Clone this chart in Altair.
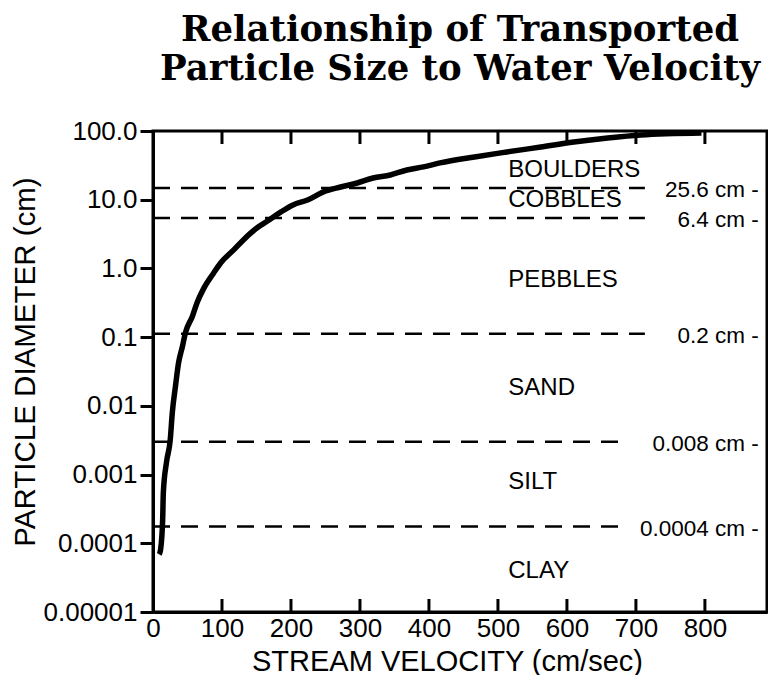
import altair as alt
import pandas as pd

# ---------------- data ----------------
title_lines = ["Relationship of Transported", "Particle Size to Water Velocity"]
x_title = "STREAM VELOCITY (cm/sec)"
y_title = "PARTICLE DIAMETER (cm)"

# transport curve (velocity cm/sec, particle diameter cm)
velocity = [9, 11, 14, 15, 19.5, 25, 28, 32.5, 37, 42.5, 47, 57, 64, 73, 88, 98,
            117, 131, 151, 166, 185, 203, 224, 247, 272, 296, 319, 344, 368, 392,
            416, 466, 513, 562, 610, 659, 707, 795]
diameter = [6.9e-5, 8.1e-5, 2.2e-4, 5.5e-4, 1.5e-3, 3.2e-3, 8.0e-3, 0.019, 0.042,
            0.072, 0.116, 0.20, 0.32, 0.50, 0.86, 1.2, 1.86, 2.6, 3.9, 4.9, 6.6,
            8.4, 9.9, 13.0, 15.3, 17.5, 20.7, 22.9, 27.1, 30.0, 34.3, 41.9, 49.5,
            58.5, 69, 79, 87.5, 93.5]

# class boundaries (as drawn) and their labels
boundary_values = [14.8, 5.4, 0.112, 0.0030, 0.000175]
boundary_labels = ["25.6 cm -", "6.4 cm -", "0.2 cm -", "0.008 cm -", "0.0004 cm -"]
boundary_start = [0, 0, 0, 0, 0]
boundary_end = [713, 713, 713, 686, 686]
boundary_label_x = 878

# size classes
class_names = ["BOULDERS", "COBBLES", "PEBBLES", "SAND", "SILT", "CLAY"]
class_y = [27, 10, 0.68, 0.018, 0.00078, 4.0e-5]
class_x = 515

# axes
x_domain = [0, 890]
x_ticks = [0, 100, 200, 300, 400, 500, 600, 700, 800]
y_domain = [1e-5, 100]
y_ticks = [1e-5, 1e-4, 1e-3, 1e-2, 1e-1, 1, 10, 100]
y_tick_labels = ["0.00001", "0.0001", "0.001", "0.01", "0.1", "1.0", "10.0", "100.0"]

W, H = 614, 481
SANS = "Liberation Sans"

# ---------------- tables ----------------
curve_df = pd.DataFrame({"v": velocity, "d": diameter})
bound_df = pd.DataFrame({
    "v": boundary_start,
    "v2": boundary_end,
    "vl": [boundary_label_x] * len(boundary_values),
    "d": boundary_values,
    "label": boundary_labels,
})
class_df = pd.DataFrame({"v": [class_x] * len(class_names), "d": class_y, "name": class_names})
tick_df = pd.DataFrame({"v": [t for t in x_ticks if t > 0]})

# label expression built from the tick label list
expr = "''"
for val, lab in reversed(list(zip(y_ticks, y_tick_labels))):
    expr = f"abs(log(datum.value) - log({val})) < 0.1 ? '{lab}' : ({expr})"

x_scale = alt.Scale(domain=x_domain, nice=False, zero=False)
y_scale = alt.Scale(type="log", domain=y_domain, nice=False)

x_axis = alt.Axis(values=x_ticks, ticks=False, tickSize=0, labelFont=SANS,
                  labelFontSize=26, labelPadding=3, labelColor="black",
                  labelFlush=False, title=x_title, titleFont=SANS, titleFontSize=29,
                  titleFontWeight="normal", titleColor="black",
                  titleX=294, titleY=58, titleBaseline="alphabetic", titleAlign="center",
                  domainColor="black", domainWidth=3, grid=False)
y_axis = alt.Axis(values=y_ticks, labelExpr=expr, tickSize=13, tickWidth=3,
                  tickColor="black", labelFont=SANS, labelFontSize=26,
                  labelPadding=3, labelColor="black", labelFlush=False,
                  title=y_title, titleFont=SANS, titleFontSize=29.5,
                  titleFontWeight="normal", titleColor="black",
                  titleX=-119, titleY=H / 2 - 10, titleBaseline="alphabetic",
                  titleAlign="center",
                  domainColor="black", domainWidth=3, grid=False)

curve = alt.Chart(curve_df).mark_line(color="black", strokeWidth=5.5,
                                      interpolate="monotone").encode(
    x=alt.X("v:Q", scale=x_scale, axis=x_axis),
    y=alt.Y("d:Q", scale=y_scale, axis=y_axis),
)

dashes = alt.Chart(bound_df).mark_rule(color="black", strokeWidth=2.5,
                                       strokeDash=[17, 11]).encode(
    x="v:Q", x2="v2:Q", y="d:Q")

bound_text = alt.Chart(bound_df).mark_text(align="right", baseline="middle", dy=2,
                                           font=SANS, fontSize=22.5, color="black").encode(
    x="vl:Q", y="d:Q", text="label:N")

class_text = alt.Chart(class_df).mark_text(align="left", baseline="middle",
                                           font=SANS, fontSize=24, color="black").encode(
    x="v:Q", y="d:Q", text="name:N")

ticks_bottom = alt.Chart(tick_df).mark_rule(color="black", strokeWidth=3).encode(
    x="v:Q", y=alt.value(H), y2=alt.value(H - 13))
ticks_top = alt.Chart(tick_df).mark_rule(color="black", strokeWidth=3).encode(
    x="v:Q", y=alt.value(0), y2=alt.value(13))

chart = alt.layer(dashes, curve, bound_text, class_text, ticks_bottom, ticks_top).properties(
    width=W, height=H,
    background="white",
    autosize=alt.AutoSizeParams(type="none"),
    padding={"left": 145, "top": 123, "right": 1, "bottom": 63},
    title=alt.TitleParams(text=title_lines, font="DejaVu Serif", fontSize=35.5,
                          fontWeight="bold", anchor="middle", lineHeight=39,
                          color="black", offset=31),
).configure_view(stroke="black", strokeWidth=3)

chart.save("out.html", embed_options={"renderer": "svg", "actions": False})
